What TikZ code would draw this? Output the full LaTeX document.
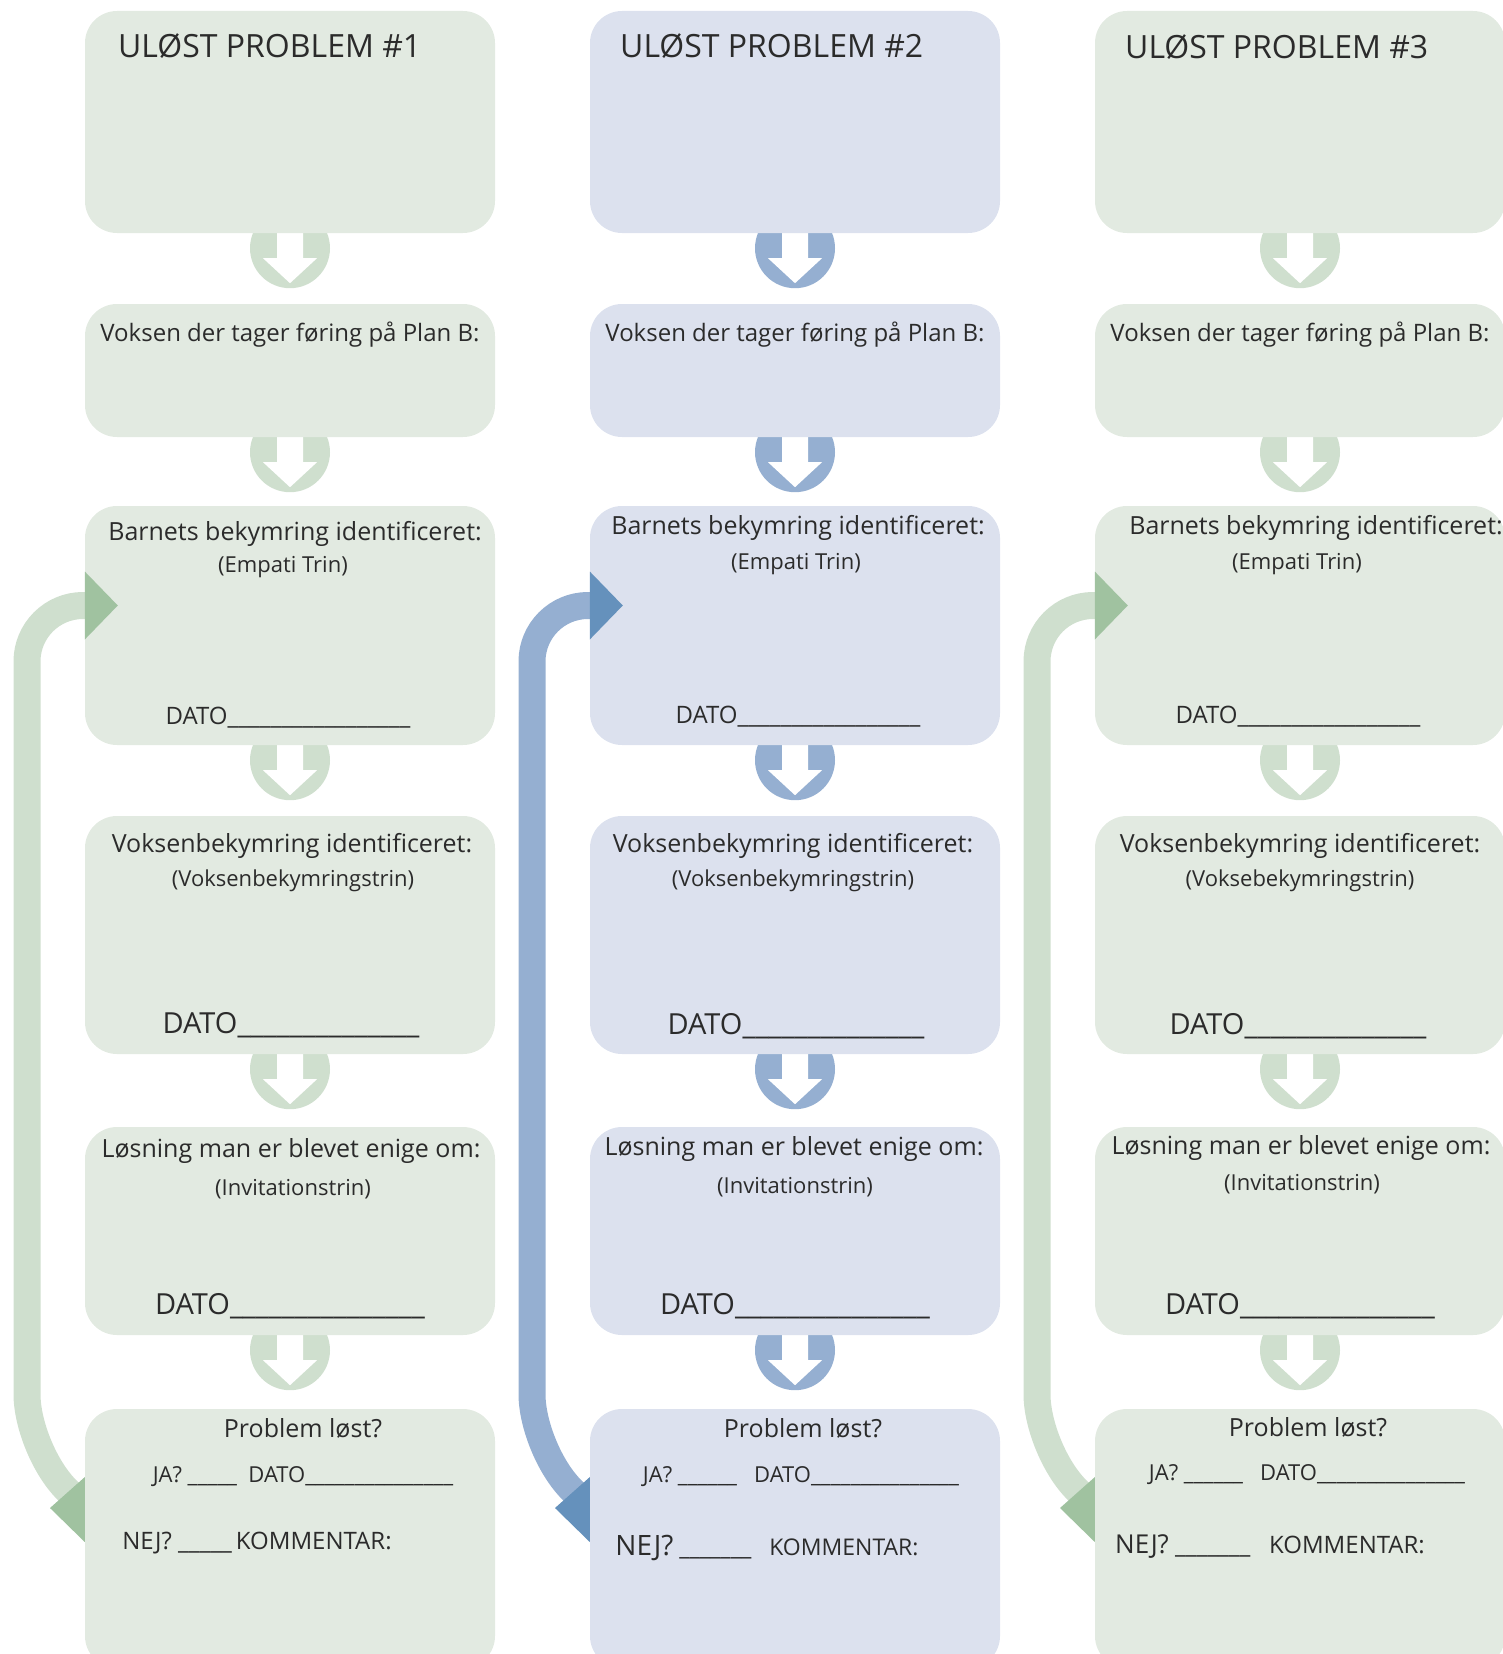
\documentclass[tikz,border=0pt]{standalone}
\usepackage{fontspec}
\setmainfont{Open Sans}
\usetikzlibrary{backgrounds}

\definecolor{gfill}{HTML}{E2EAE1}
\definecolor{garr}{HTML}{CFDFCE}
\definecolor{ghead}{HTML}{A0C2A0}
\definecolor{bfill}{HTML}{DCE1EE}
\definecolor{barr}{HTML}{95AFD1}
\definecolor{bhead}{HTML}{6591BC}
\definecolor{ink}{HTML}{2B2B2B}

\tikzset{
  box/.style={rounded corners=32pt, minimum width=410pt, inner sep=0pt},
  gbox/.style={box, fill=gfill},
  bbox/.style={box, fill=bfill},
  txt/.style={inner sep=0pt, text=ink, font=\fontsize{#1}{#1}\selectfont},
  title/.style={txt=32, anchor=west},
  band/.style={line width=27pt, rounded corners=56pt},
  pics/downarr/.style={code={
    \fill[#1] (0,15) circle (40pt);
    \fill[white] (-13,-5) -- (13,-5) -- (13,25) -- (27,25) -- (0,50) -- (-27,25) -- (-13,25) -- cycle;
  }},
}

\begin{document}
\begin{tikzpicture}[x=1pt, y=-1pt]
    \useasboundingbox (0,0) rectangle (1503,1654) ;

    % column 1
    \node[gbox, minimum height=222pt] (p1) at (290,122) {} ;
    \node[gbox, minimum height=133pt] (v1) at (290,370.5) {} ;
    \node[gbox, minimum height=239pt] (b1) at (290,625.5) {} ;
    \node[gbox, minimum height=238pt] (a1) at (290,935) {} ;
    \node[gbox, minimum height=208pt] (l1) at (290,1231) {} ;
    \begin{pgfonlayer}{background}
      \pic at (p1.south) {downarr=garr} ;
      \pic at (v1.south) {downarr=garr} ;
      \pic at (b1.south) {downarr=garr} ;
      \pic at (a1.south) {downarr=garr} ;
      \pic at (l1.south) {downarr=garr} ;
    \end{pgfonlayer}
    \coordinate (b1in) at ([yshift=20pt]b1.west) ;
    \coordinate (s1in) at (107,1530) ;
    \draw[band, garr] (s1in) -- ++(-80,-80) |- (b1in) ;
    \fill[ghead] ([yshift=34pt]b1in) -- ([xshift=33pt]b1in) -- ([yshift=-34pt]b1in) -- cycle ;
    \fill[ghead] (s1in) ++(-57,-22) -- ++(45,-40) -- ++(0,84) -- cycle ;
    \node[gbox, minimum height=259pt] (s1) at (290,1538.5) {} ;

    \node[title] (p1t) at (118,46) {ULØST PROBLEM \#1} ;
    \node[txt=24] (v1t) at (290,335) {Voksen der tager føring på Plan B:} ;
    \node[txt=25] (b1t) at (295,534) {Barnets bekymring identificeret:} ;
    \node[txt=22] (b1s) at (283,567) {(Empati Trin)} ;
    \node[txt=24] (b1d) at (288,718) {DATO\_\_\_\_\_\_\_\_\_\_\_\_\_\_\_\_\_} ;
    \node[txt=25] (a1t) at (292,846) {Voksenbekymring identificeret:} ;
    \node[txt=22] (a1s) at (293,881) {(Voksenbekymringstrin)} ;
    \node[txt=29] (a1d) at (291,1025) {DATO\_\_\_\_\_\_\_\_\_\_\_\_\_\_} ;
    \node[txt=25] (l1t) at (291,1151) {Løsning man er blevet enige om:} ;
    \node[txt=22] (l1s) at (293,1189) {(Invitationstrin)} ;
    \node[txt=29] (l1d) at (290,1306) {DATO\_\_\_\_\_\_\_\_\_\_\_\_\_\_\_} ;
    \node[txt=25] (s1t) at (303,1428) {Problem løst?} ;
    \node[txt=22] (s1j) at (303,1477) {JA? \_\_\_\_\_\ \ DATO\_\_\_\_\_\_\_\_\_\_\_\_\_\_\_} ;
    \node[txt=24] (s1n) at (257,1543) {NEJ? \_\_\_\_\_\,KOMMENTAR:} ;

    % column 2
    \node[bbox, minimum height=222pt] (p2) at (795,122) {} ;
    \node[bbox, minimum height=133pt] (v2) at (795,370.5) {} ;
    \node[bbox, minimum height=239pt] (b2) at (795,625.5) {} ;
    \node[bbox, minimum height=238pt] (a2) at (795,935) {} ;
    \node[bbox, minimum height=208pt] (l2) at (795,1231) {} ;
    \begin{pgfonlayer}{background}
      \pic at (p2.south) {downarr=barr} ;
      \pic at (v2.south) {downarr=barr} ;
      \pic at (b2.south) {downarr=barr} ;
      \pic at (a2.south) {downarr=barr} ;
      \pic at (l2.south) {downarr=barr} ;
    \end{pgfonlayer}
    \coordinate (b2in) at ([yshift=20pt]b2.west) ;
    \coordinate (s2in) at (612,1530) ;
    \draw[band, barr] (s2in) -- ++(-80,-80) |- (b2in) ;
    \fill[bhead] ([yshift=34pt]b2in) -- ([xshift=33pt]b2in) -- ([yshift=-34pt]b2in) -- cycle ;
    \fill[bhead] (s2in) ++(-57,-22) -- ++(45,-40) -- ++(0,84) -- cycle ;
    \node[bbox, minimum height=259pt] (s2) at (795,1538.5) {} ;

    \node[title] (p2t) at (620,46) {ULØST PROBLEM \#2} ;
    \node[txt=24] (v2t) at (795,335) {Voksen der tager føring på Plan B:} ;
    \node[txt=25] (b2t) at (798,528) {Barnets bekymring identificeret:} ;
    \node[txt=22] (b2s) at (796,564) {(Empati Trin)} ;
    \node[txt=24] (b2d) at (798,717) {DATO\_\_\_\_\_\_\_\_\_\_\_\_\_\_\_\_\_} ;
    \node[txt=25] (a2t) at (793,846) {Voksenbekymring identificeret:} ;
    \node[txt=22] (a2s) at (793,881) {(Voksenbekymringstrin)} ;
    \node[txt=29] (a2d) at (796,1026) {DATO\_\_\_\_\_\_\_\_\_\_\_\_\_\_} ;
    \node[txt=25] (l2t) at (794,1149) {Løsning man er blevet enige om:} ;
    \node[txt=22] (l2s) at (795,1187) {(Invitationstrin)} ;
    \node[txt=29] (l2d) at (795,1306) {DATO\_\_\_\_\_\_\_\_\_\_\_\_\_\_\_} ;
    \node[txt=25] (s2t) at (803,1428) {Problem løst?} ;
    \node[txt=22] (s2j) at (801,1477) {JA? \_\_\_\_\_\_\ \ \ DATO\_\_\_\_\_\_\_\_\_\_\_\_\_\_\_} ;
    \node[txt=23] (s2n) at (767,1548) {{\fontsize{28}{28}\selectfont NEJ?} \_\_\_\_\_\_\_\ \ \ KOMMENTAR:} ;

    % column 3
    \node[gbox, minimum height=222pt] (p3) at (1300,122) {} ;
    \node[gbox, minimum height=133pt] (v3) at (1300,370.5) {} ;
    \node[gbox, minimum height=239pt] (b3) at (1300,625.5) {} ;
    \node[gbox, minimum height=238pt] (a3) at (1300,935) {} ;
    \node[gbox, minimum height=208pt] (l3) at (1300,1231) {} ;
    \begin{pgfonlayer}{background}
      \pic at (p3.south) {downarr=garr} ;
      \pic at (v3.south) {downarr=garr} ;
      \pic at (b3.south) {downarr=garr} ;
      \pic at (a3.south) {downarr=garr} ;
      \pic at (l3.south) {downarr=garr} ;
    \end{pgfonlayer}
    \coordinate (b3in) at ([yshift=20pt]b3.west) ;
    \coordinate (s3in) at (1117,1530) ;
    \draw[band, garr] (s3in) -- ++(-80,-80) |- (b3in) ;
    \fill[ghead] ([yshift=34pt]b3in) -- ([xshift=33pt]b3in) -- ([yshift=-34pt]b3in) -- cycle ;
    \fill[ghead] (s3in) ++(-57,-22) -- ++(45,-40) -- ++(0,84) -- cycle ;
    \node[gbox, minimum height=259pt] (s3) at (1300,1538.5) {} ;

    \node[title] (p3t) at (1125,47) {ULØST PROBLEM \#3} ;
    \node[txt=24] (v3t) at (1300,335) {Voksen der tager føring på Plan B:} ;
    \node[txt=25] (b3t) at (1316,528) {Barnets bekymring identificeret:} ;
    \node[txt=22] (b3s) at (1297,564) {(Empati Trin)} ;
    \node[txt=24] (b3d) at (1298,717) {DATO\_\_\_\_\_\_\_\_\_\_\_\_\_\_\_\_\_} ;
    \node[txt=25] (a3t) at (1300,846) {Voksenbekymring identificeret:} ;
    \node[txt=22] (a3s) at (1300,881) {(Voksebekymringstrin)} ;
    \node[txt=29] (a3d) at (1298,1026) {DATO\_\_\_\_\_\_\_\_\_\_\_\_\_\_} ;
    \node[txt=25] (l3t) at (1301,1148) {Løsning man er blevet enige om:} ;
    \node[txt=22] (l3s) at (1302,1184) {(Invitationstrin)} ;
    \node[txt=29] (l3d) at (1300,1306) {DATO\_\_\_\_\_\_\_\_\_\_\_\_\_\_\_} ;
    \node[txt=25] (s3t) at (1308,1427) {Problem løst?} ;
    \node[txt=22] (s3j) at (1307,1475) {JA? \_\_\_\_\_\_\ \ \ DATO\_\_\_\_\_\_\_\_\_\_\_\_\_\_\_} ;
    \node[txt=24] (s3n) at (1270,1547) {{\fontsize{26}{26}\selectfont NEJ?} \_\_\_\_\_\_\_\ \ \ KOMMENTAR:} ;
  \end{tikzpicture}
\end{document}
